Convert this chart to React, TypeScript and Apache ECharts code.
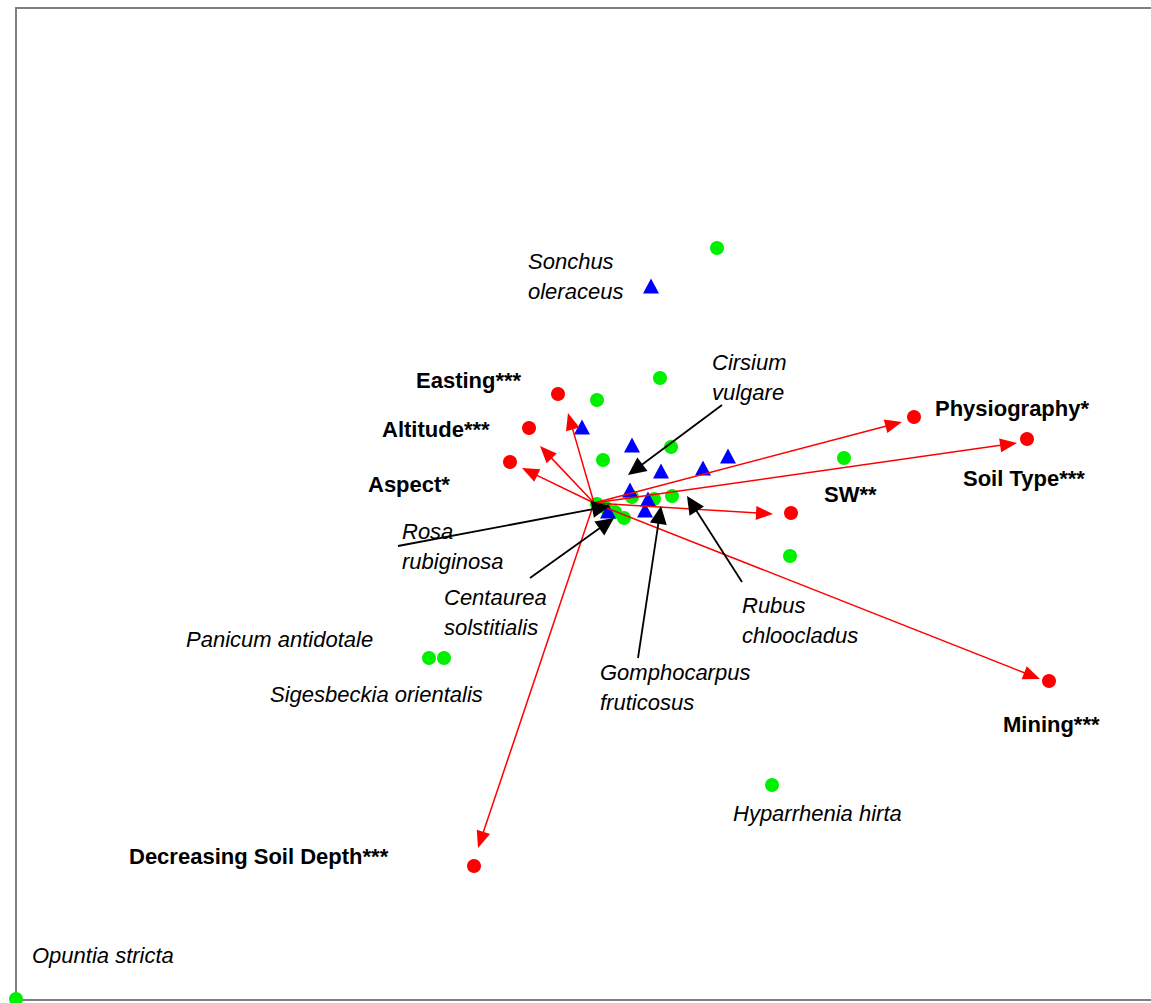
import React, { useEffect, useRef } from "react";
import * as echarts from "echarts";

// Environmental variables (biplot scores)
const envNames = ["Easting***", "Altitude***", "Aspect*", "Physiography*", "Soil Type***", "SW**", "Mining***", "Decreasing Soil Depth***"];
const envScoreX = [-0.36, -0.65, -0.84, 3.2, 4.33, 1.97, 4.55, -1.2];
const envScoreY = [1.09, 0.75, 0.41, 0.86, 0.64, -0.1, -1.78, -3.63];
const envArrowX = [-0.26, -0.54, -0.72, 3.08, 4.23, 1.79, 4.46, -1.16];
const envArrowY = [0.9, 0.57, 0.35, 0.81, 0.6, -0.11, -1.76, -3.45];
const envLabelX = [-1.78, -2.12, -2.26, 3.41, 3.69, 2.3, 4.09, -4.65];
const envLabelY = [1.23, 0.74, 0.19, 0.95, 0.25, 0.09, -2.21, -3.53];

// Species scores, group 1 (green circles)
const greenX = [1.23, 0.66, 0.03, 0.77, 0.09, 2.5, 1.96, -1.65, -1.5, 1.78, -5.78, 0.03, 0.12, 0.21, 0.3, 0.38, 0.6, 0.78];
const greenY = [2.55, 1.25, 1.03, 0.56, 0.43, 0.45, -0.53, -1.55, -1.55, -2.82, -4.96, -0.01, -0.05, -0.09, -0.15, 0.06, 0.04, 0.07];

// Species scores, group 2 (blue triangles)
const blueX = [0.57, -0.12, 0.38, 0.67, 1.09, 1.34, 0.36, 0.54, 0.51, 0.14];
const blueY = [2.17, 0.76, 0.58, 0.32, 0.35, 0.47, 0.13, 0.04, -0.07, -0.08];

// Species labels
const speciesNames = [
  "Sonchus\noleraceus",
  "Cirsium\nvulgare",
  "Rosa\nrubiginosa",
  "Centaurea\nsolstitialis",
  "Panicum antidotale",
  "Sigesbeckia orientalis",
  "Rubus\nchloocladus",
  "Gomphocarpus\nfruticosus",
  "Hyparrhenia hirta",
  "Opuntia stricta",
];
const speciesLabelX = [-0.66, 1.18, -1.92, -1.5, -4.08, -3.24, 1.48, 0.06, 1.39, -5.62];
const speciesLabelY = [2.265, 1.26, -0.435, -1.09, -1.36, -1.91, -1.175, -1.84, -3.1, -4.52];

// Pointer arrows from labels to species
const pointerFromX = [1.28, -1.96, -0.64, 0.44, 1.48];
const pointerFromY = [0.98, -0.43, -0.75, -1.55, -0.79];
const pointerToX = [0.34, 0.16, 0.2, 0.67, 0.93];
const pointerToY = [0.28, -0.03, -0.15, -0.03, 0.07];

const X_MIN = -5.78;
const X_MAX = 5.57;
const Y_MIN = -4.97;
const Y_MAX = 4.95;

const FONT = '"Liberation Sans", Arial, Helvetica, sans-serif';
const FRAME = { show: true, onZero: false, lineStyle: { color: "#808080", width: 2 } };

function arrowRenderer(color: string, lineWidth: number, headLen: number, headW: number) {
  return (params: any, api: any) => {
    const p0 = api.coord([api.value(0), api.value(1)]);
    const p1 = api.coord([api.value(2), api.value(3)]);
    const dx = p1[0] - p0[0];
    const dy = p1[1] - p0[1];
    const len = Math.hypot(dx, dy) || 1;
    const ux = dx / len;
    const uy = dy / len;
    const bx = p1[0] - ux * headLen;
    const by = p1[1] - uy * headLen;
    const nx = -uy;
    const ny = ux;
    return {
      type: "group",
      children: [
        {
          type: "line",
          shape: { x1: p0[0], y1: p0[1], x2: bx + ux * 2, y2: by + uy * 2 },
          style: { stroke: color, lineWidth, fill: null },
        },
        {
          type: "polygon",
          shape: {
            points: [
              [p1[0], p1[1]],
              [bx + (nx * headW) / 2, by + (ny * headW) / 2],
              [bx - (nx * headW) / 2, by - (ny * headW) / 2],
            ],
          },
          style: { fill: color, stroke: null },
        },
      ],
    };
  };
}

function labelRenderer(texts: string[], font: string) {
  return (params: any, api: any) => {
    const p = api.coord([api.value(0), api.value(1)]);
    return {
      type: "text",
      x: p[0],
      y: p[1],
      style: {
        text: texts[params.dataIndex],
        font,
        fill: "#000000",
        align: "left",
        verticalAlign: "middle",
        textAlign: "left",
        textVerticalAlign: "middle",
        lineHeight: 30,
      },
    };
  };
}

export default function App() {
  const ref = useRef<HTMLDivElement>(null);

  useEffect(() => {
    if (!ref.current) return;
    const chart = echarts.init(ref.current, undefined, { renderer: "svg" });

    const greenData = greenX.map((x, i) => [x, greenY[i]]);
    const blueData = blueX.map((x, i) => [x, blueY[i]]);
    const envData = envScoreX.map((x, i) => [x, envScoreY[i]]);
    const envArrows = envArrowX.map((x, i) => [0, 0, x, envArrowY[i]]);
    const pointers = pointerFromX.map((x, i) => [x, pointerFromY[i], pointerToX[i], pointerToY[i]]);
    const envLabels = envLabelX.map((x, i) => [x, envLabelY[i]]);
    const spLabels = speciesLabelX.map((x, i) => [x, speciesLabelY[i]]);

    const hiddenParts = {
      axisTick: { show: false },
      axisLabel: { show: false },
      splitLine: { show: false },
      axisLine: FRAME,
    };

    chart.setOption({
      animation: false,
      backgroundColor: "#ffffff",
      grid: {
        left: 16,
        top: 8,
        right: 0,
        bottom: 3,
        outerBoundsMode: "none",
      },
      xAxis: [
        { type: "value", min: X_MIN, max: X_MAX, position: "bottom", ...hiddenParts },
        { type: "value", min: X_MIN, max: X_MAX, position: "top", ...hiddenParts },
      ],
      yAxis: { type: "value", min: Y_MIN, max: Y_MAX, position: "left", ...hiddenParts },
      series: [
        {
          type: "scatter",
          name: "group1",
          data: greenData,
          symbol: "circle",
          symbolSize: 14,
          clip: false,
          itemStyle: { color: "#00f000", opacity: 1 },
          z: 2,
        },
        {
          type: "scatter",
          name: "group2",
          data: blueData,
          symbol: "triangle",
          symbolSize: [16, 15],
          clip: false,
          itemStyle: { color: "#0000ff", opacity: 1 },
          z: 3,
        },
        {
          type: "scatter",
          name: "env",
          data: envData,
          symbol: "circle",
          symbolSize: 14,
          clip: false,
          itemStyle: { color: "#ff0000", opacity: 1 },
          z: 3,
        },
        {
          type: "custom",
          name: "envArrows",
          data: envArrows,
          encode: { x: [0, 2], y: [1, 3] },
          clip: false,
          renderItem: arrowRenderer("#ff0000", 1.5, 17, 14),
          z: 4,
        },
        {
          type: "custom",
          name: "pointers",
          data: pointers,
          encode: { x: [0, 2], y: [1, 3] },
          clip: false,
          renderItem: arrowRenderer("#000000", 1.8, 18, 17),
          z: 5,
        },
        {
          type: "custom",
          name: "envLabels",
          data: envLabels,
          encode: { x: 0, y: 1 },
          clip: false,
          renderItem: labelRenderer(envNames, `bold 22px ${FONT}`),
          z: 6,
        },
        {
          type: "custom",
          name: "speciesLabels",
          data: spLabels,
          encode: { x: 0, y: 1 },
          clip: false,
          renderItem: labelRenderer(speciesNames, `italic 22px ${FONT}`),
          z: 6,
        },
      ],
    });

    return () => chart.dispose();
  }, []);

  return (
    <div
      ref={ref}
      style={{ position: "fixed", left: 0, top: 0, width: 1151, height: 1003, background: "#ffffff" }}
    />
  );
}
